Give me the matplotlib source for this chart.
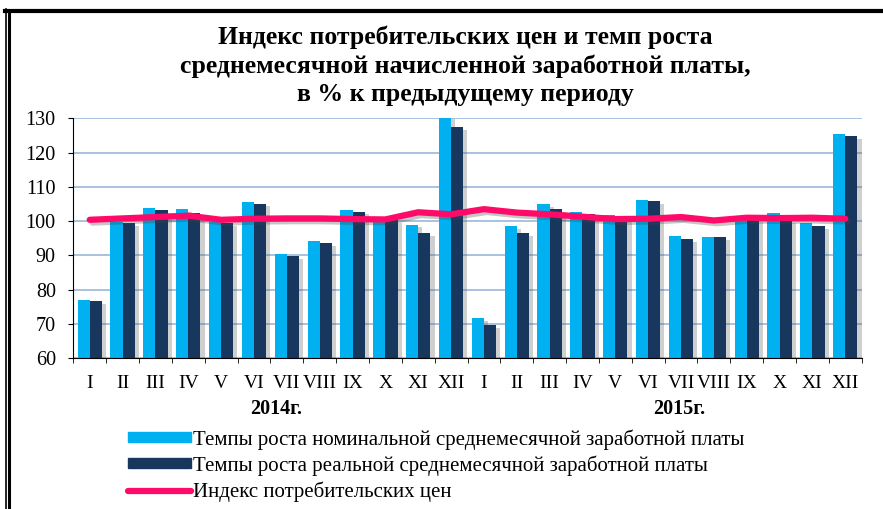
import numpy as np
import matplotlib
matplotlib.use('Agg')
import matplotlib.pyplot as plt
import matplotlib.patheffects as pe
from matplotlib.lines import Line2D
from matplotlib.patches import Patch

#                   Data

months = ['I', 'II', 'III', 'IV', 'V', 'VI', 'VII', 'VIII', 'IX', 'X', 'XI', 'XII'] * 2
years = ['2014г.', '2015г.']

nominal_wage = [77.0, 99.7, 103.9, 103.6, 99.9, 105.6, 90.3, 94.2, 103.3, 100.4, 99.0, 130.5,
                71.7, 98.5, 105.0, 102.7, 101.7, 106.3, 95.6, 95.5, 100.8, 102.5, 99.5, 125.4]
real_wage = [76.6, 99.4, 103.3, 102.3, 99.4, 105.1, 89.9, 93.7, 102.8, 100.2, 96.5, 127.4,
             69.7, 96.5, 103.5, 102.2, 101.4, 105.9, 94.8, 95.4, 100.5, 100.3, 98.5, 124.8]
cpi = [100.4, 100.8, 101.2, 101.6, 100.4, 100.7, 100.8, 100.8, 100.6, 100.5, 102.6, 102.0,
       103.5, 102.5, 102.0, 101.3, 100.6, 100.7, 101.2, 100.2, 101.0, 100.9, 101.0, 100.7]

label_nominal = 'Темпы роста номинальной среднемесячной заработной платы'
label_real = 'Темпы роста реальной среднемесячной заработной платы'
label_cpi = 'Индекс потребительских цен'
title = ('Индекс потребительских цен и темп роста\n'
         'среднемесячной начисленной заработной платы,\n'
         'в % к предыдущему периоду')

#                   Plot

plt.rcParams['font.family'] = ['Liberation Serif', 'DejaVu Serif']

W, H = 883, 509
fig = plt.figure(figsize=(W / 100, H / 100), dpi=100)
ax_top, ax_bot = 118.3, 358.3
ax = fig.add_axes([73.3 / W, 1 - ax_bot / H, (861.7 - 73.3) / W, (ax_bot - ax_top) / H])

x = np.arange(len(months))
bw = 0.37
shadow = [pe.SimplePatchShadow(offset=(3, -2), shadow_rgbFace='#555555', alpha=0.28), pe.Normal()]
b1 = ax.bar(x - bw / 2, nominal_wage, bw, color='#00b0f0', zorder=2)
b2 = ax.bar(x + bw / 2, real_wage, bw, color='#17375e', zorder=2)
for b in list(b1) + list(b2):
    b.set_path_effects(shadow)

ax.plot(x, cpi, color='#ff0a68', lw=4.5, solid_capstyle='round', solid_joinstyle='round', zorder=3,
        path_effects=[pe.SimpleLineShadow(offset=(2, -2), shadow_color='#444444', alpha=0.3), pe.Normal()])

ax.set_ylim(60, 130)
ax.set_xlim(-0.5, len(months) - 0.5)
ax.set_yticks(range(60, 131, 10))
ax.yaxis.grid(True, color='#a8c2e0', lw=1.4, zorder=0)
ax.set_axisbelow(True)
for s in ['top', 'right']:
    ax.spines[s].set_visible(False)

ax.set_xticks(x)
ax.set_xticklabels(months)
ax.set_xticks(np.arange(-0.5, len(months), 1), minor=True)
ax.tick_params(axis='x', which='major', length=0, pad=12, labelsize=14)
ax.tick_params(axis='x', which='minor', length=3.6, direction='out')
ax.tick_params(axis='y', length=3.6, direction='out', labelsize=14.5, pad=9)

year_y = -(409 - ax_bot) / (ax_bot - ax_top)
for xpos, yr in zip([5.68, 17.95], years):
    ax.text(xpos, year_y, yr, transform=ax.get_xaxis_transform(), ha='center', va='center',
            fontsize=14.5, fontweight='bold')

fig.text(465 / W, 1 - 66 / H, title, ha='center', va='center', fontsize=18.5, fontweight='bold',
         linespacing=1.28)

handles = [Patch(color='#00b0f0'), Patch(color='#17375e'),
           Line2D([], [], color='#ff0a68', lw=4.5, solid_capstyle='round')]
fig.legend(handles, [label_nominal, label_real, label_cpi], loc='upper left',
           bbox_to_anchor=(128 / W, 1 - 429 / H), frameon=False, fontsize=15,
           handlelength=3.0, handleheight=0.37, handletextpad=0.14, labelspacing=0.28,
           borderaxespad=0, borderpad=0)

# frame
tf = fig.transFigure
fig.add_artist(Line2D([5 / W, 1], [1 - 11 / H, 1 - 11 / H], color='black', lw=3, transform=tf))
fig.add_artist(Line2D([5.5 / W, 5.5 / W], [1 - 9 / H, 0], color='black', lw=1.2, transform=tf))
fig.add_artist(Line2D([8.7 / W, 8.7 / W], [1 - 12 / H, 0], color='black', lw=2.2, transform=tf))

fig.savefig('out.png', dpi=100)
